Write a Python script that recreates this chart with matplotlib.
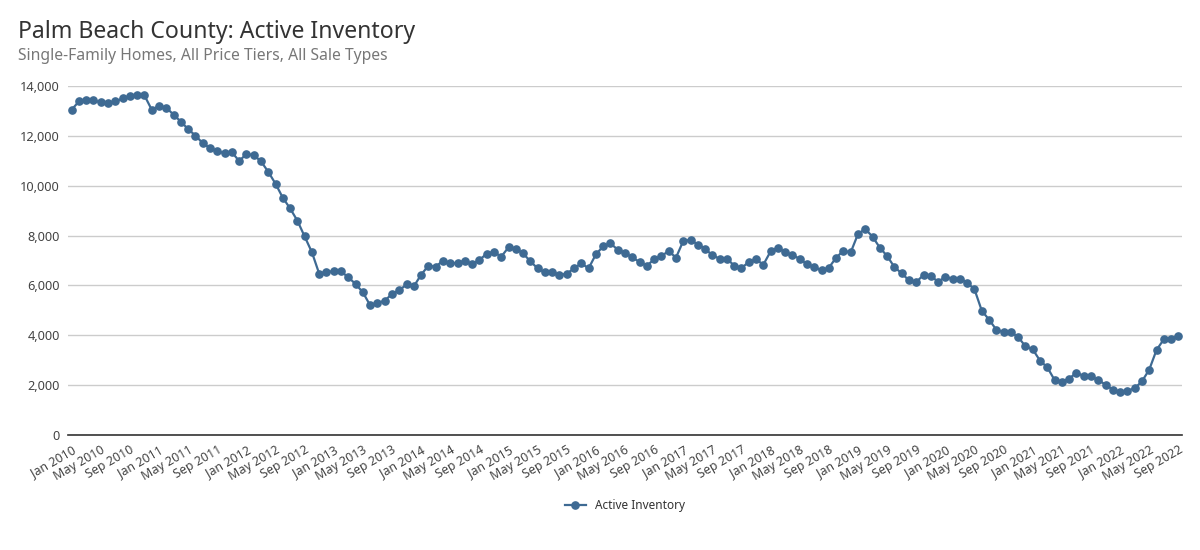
import matplotlib
matplotlib.use("Agg")
import matplotlib.pyplot as plt
import pandas as pd
from matplotlib.ticker import FuncFormatter

months = pd.date_range("2010-01-01", "2022-09-01", freq="MS")
month_labels = [d.strftime("%b %Y") for d in months]

active_inventory = [
    13050, 13380, 13430, 13430, 13340, 13300, 13380, 13500, 13600, 13620, 13620, 13050,
    13200, 13130, 12850, 12570, 12270, 12010, 11710, 11510, 11380, 11310, 11350, 10990,
    11270, 11230, 10980, 10560, 10080, 9520, 9090, 8600, 7970, 7330, 6470, 6550,
    6565, 6565, 6324, 6057, 5722, 5201, 5295, 5388, 5656, 5803, 6043, 5963,
    6431, 6792, 6752, 6993, 6886, 6899, 6993, 6845, 7019, 7273, 7340, 7153,
    7527, 7474, 7287, 6966, 6685, 6525, 6525, 6418, 6471, 6685, 6886, 6685,
    7247, 7567, 7688, 7434, 7300, 7126, 6939, 6792, 7046, 7180, 7380, 7113,
    7781, 7835, 7634, 7474, 7206, 7073, 7073, 6792, 6698, 6939, 7046, 6832,
    7367, 7514, 7327, 7206, 7073, 6845, 6725, 6605, 6712, 7113, 7394, 7327,
    8062, 8263, 7955, 7514, 7180, 6738, 6484, 6204, 6137, 6418, 6377, 6150,
    6337, 6271, 6271, 6110, 5843, 4987, 4626, 4225, 4131, 4118, 3931, 3556,
    3436, 2982, 2714, 2206, 2139, 2260, 2500, 2366, 2353, 2206, 2019, 1818,
    1725, 1778, 1872, 2153, 2621, 3409, 3837, 3850, 3984,
]
series_name = "Active Inventory"
title = "Palm Beach County: Active Inventory"
subtitle = "Single-Family Homes, All Price Tiers, All Sale Types"

plt.rcParams["font.family"] = ["Noto Sans", "DejaVu Sans"]

fig = plt.figure(figsize=(12, 5.5), dpi=100)
ax = fig.add_axes([68 / 1200, 1 - 435 / 550, (1182 - 68) / 1200, (435 - 86) / 550])

x = list(range(len(active_inventory)))
color = "#3e6a93"
ax.plot(x, active_inventory, color=color, linewidth=1.6, marker="o",
        markersize=5.2, label=series_name, clip_on=False, zorder=3)

ax.set_xlim(-0.5, len(x) - 0.5)
ax.set_ylim(0, 14000)
ax.set_yticks(range(0, 14001, 2000))
ax.yaxis.set_major_formatter(FuncFormatter(lambda v, p: f"{int(v):,}"))
ax.grid(axis="y", color="#cccccc", linewidth=1)
ax.set_axisbelow(True)
for s in ["top", "right", "left"]:
    ax.spines[s].set_visible(False)
ax.spines["bottom"].set_color("#333333")
ax.spines["bottom"].set_linewidth(1.2)
ax.spines["bottom"].set_zorder(2)

tick_pos = x[::4]
ax.set_xticks(tick_pos)
ax.set_xticklabels([month_labels[i] for i in tick_pos], rotation=30, ha="right",
                   rotation_mode="anchor", fontsize=9, color="#444444")
ax.tick_params(axis="x", length=0, pad=6)
ax.tick_params(axis="y", length=0, pad=6, labelsize=9.2, labelcolor="#444444")

fig.text(18 / 1200, 1 - 32 / 550, title, fontsize=16.6, color="#333333", va="center", ha="left")
fig.text(18 / 1200, 1 - 56 / 550, subtitle, fontsize=11.3, color="#777777", va="center", ha="left")

leg = fig.legend(loc="center", bbox_to_anchor=(625 / 1200, 1 - 506 / 550), frameon=False,
                 fontsize=8.5, handlelength=1.8, labelcolor="#333333")

fig.savefig("out.png", dpi=100)
